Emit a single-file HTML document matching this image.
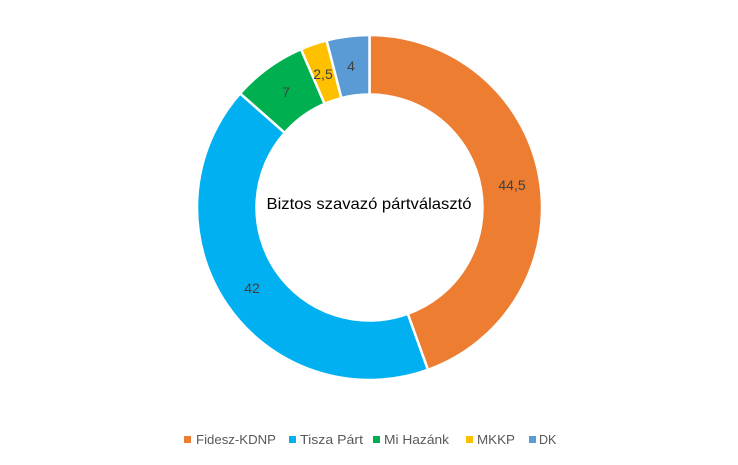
<!DOCTYPE html>
<html><head><meta charset="utf-8"><style>
body{margin:0;background:#fff;width:738px;height:460px;overflow:hidden;font-family:"Liberation Sans",sans-serif}
</style></head><body>
<svg id="s" width="738" height="460" xmlns="http://www.w3.org/2000/svg">
<g id="g"></g>
<text x="369" y="209" text-anchor="middle" font-size="16" fill="#000" textLength="205" lengthAdjust="spacingAndGlyphs">Biztos szavazó pártválasztó</text>
<g font-size="14" fill="#404040" text-anchor="middle">
<text x="512" y="190">44,5</text>
<text x="252" y="293">42</text>
<text x="286" y="97">7</text>
<text x="323" y="79">2,5</text>
<text x="351" y="71">4</text>
</g>
<g font-size="12.5" fill="#595959">
<rect x="184" y="436" width="7" height="7" fill="#ED7D31"/><text x="196" y="444" textLength="80" lengthAdjust="spacingAndGlyphs">Fidesz-KDNP</text>
<rect x="289" y="436" width="7" height="7" fill="#00B0F0"/><text x="300" y="444" textLength="63" lengthAdjust="spacingAndGlyphs">Tisza Párt</text>
<rect x="373" y="436" width="7" height="7" fill="#00B050"/><text x="384" y="444" textLength="65" lengthAdjust="spacingAndGlyphs">Mi Hazánk</text>
<rect x="466" y="436" width="7" height="7" fill="#FFC000"/><text x="477" y="444" textLength="38" lengthAdjust="spacingAndGlyphs">MKKP</text>
<rect x="529" y="436" width="7" height="7" fill="#5B9BD5"/><text x="539" y="444">DK</text>
</g>
</svg>
<script>
var cx=369.5,cy=207.5,R=172.5,r=113;
var d=[[44.5,"#ED7D31"],[42,"#00B0F0"],[7,"#00B050"],[2.5,"#FFC000"],[4,"#5B9BD5"]];
var a=0,h="";
function p(rad,ang){var t=(ang-90)*Math.PI/180;return (cx+rad*Math.cos(t)).toFixed(2)+","+(cy+rad*Math.sin(t)).toFixed(2);}
d.forEach(function(x){var b=a+x[0]*3.6,l=(b-a)>180?1:0;
h+='<path d="M'+p(R,a)+' A'+R+','+R+' 0 '+l+' 1 '+p(R,b)+' L'+p(r,b)+' A'+r+','+r+' 0 '+l+' 0 '+p(r,a)+' Z" fill="'+x[1]+'" stroke="#fff" stroke-width="2.5"/>';a=b;});
document.getElementById("g").innerHTML=h;
</script>
</body></html>
